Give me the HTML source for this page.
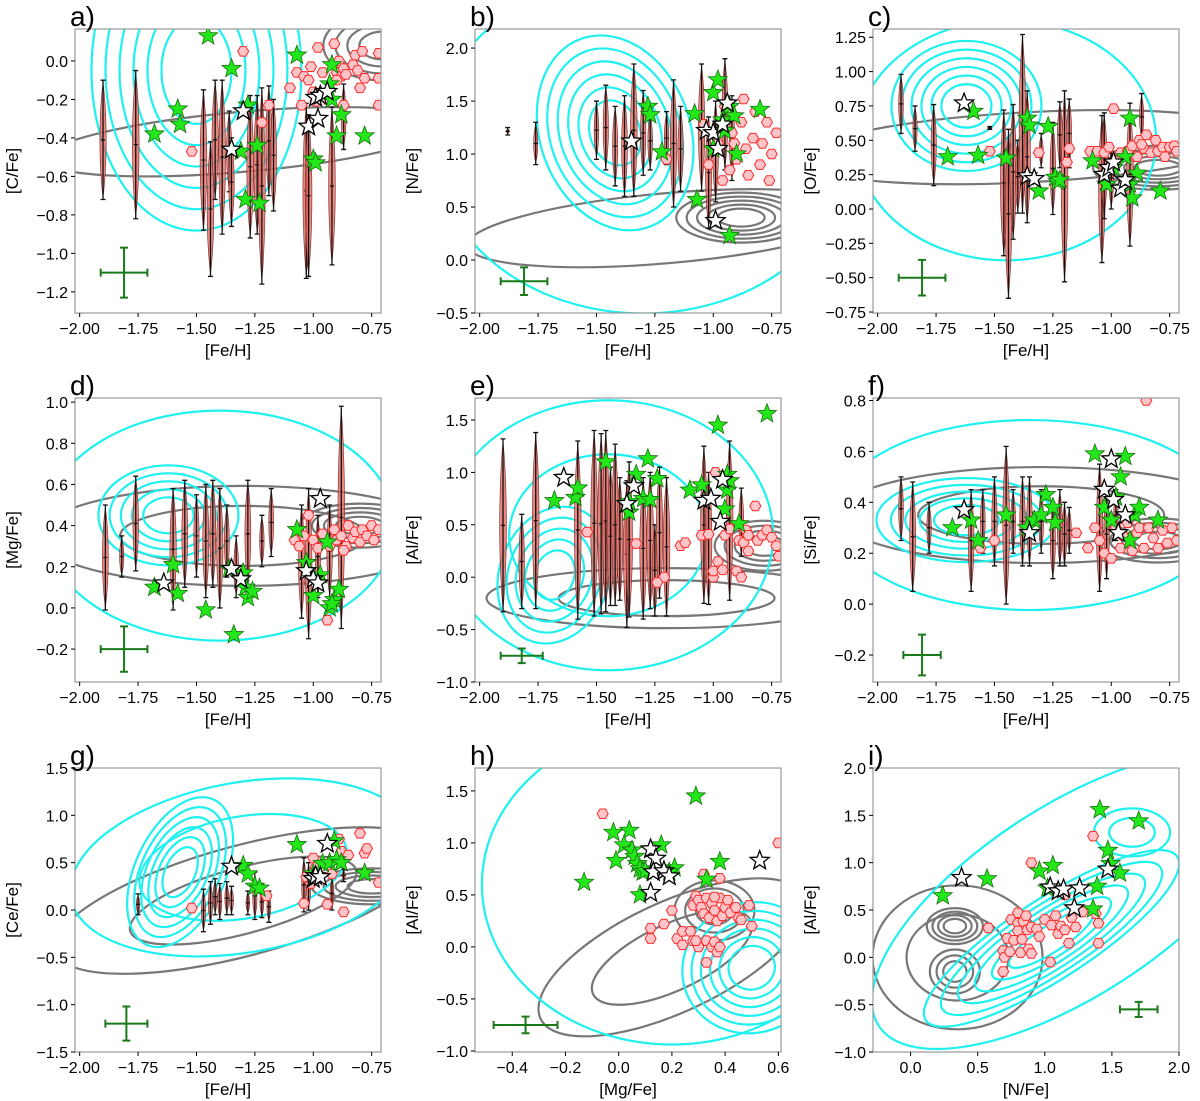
<!DOCTYPE html>
<html><head><meta charset="utf-8">
<style>
html,body{margin:0;padding:0;background:#fff;}
svg{display:block;font-family:"Liberation Sans","DejaVu Sans",sans-serif;}
</style></head>
<body>
<svg id="fig" width="1200" height="1101" viewBox="0 0 1200 1101" xmlns="http://www.w3.org/2000/svg"></svg>
<script>
// ---------- DATA ----------
const aGreen=[[-1.68,-0.38],[-1.58,-0.25],[-1.57,-0.33],[-1.45,0.13],[-1.35,-0.04],[-1.31,-0.47],[-1.28,-0.23],[-1.29,-0.72],[-1.24,-0.44],[-1.23,-0.74],[-1.07,0.03],[-1.0,-0.51],[-0.99,-0.53],[-0.92,-0.02],[-0.93,-0.12],[-0.92,-0.2],[-0.9,-0.39],[-0.88,-0.28],[-0.78,-0.39]];
const aOpen=[[-1.35,-0.46],[-1.3,-0.26],[-1.02,-0.34],[-0.99,-0.19],[-0.97,-0.18],[-0.94,-0.16],[-0.98,-0.3]];
const aHex=[[-1.52,-0.47],[-1.3,0.05],[-1.22,-0.32],[-1.19,-0.23],[-1.1,-0.14],[-1.07,-0.06],[-1.05,-0.23],[-1.04,-0.08],[-1.02,-0.1],[-1.01,-0.03],[-1.0,-0.16],[-0.98,0.07],[-0.96,-0.06],[-0.94,-0.2],[-0.91,0.09],[-0.9,-0.06],[-0.89,0.0],[-0.88,-0.08],[-0.87,-0.04],[-0.86,-0.07],[-0.83,-0.02],[-0.82,0.03],[-0.81,-0.05],[-0.79,0.05],[-0.78,-0.09],[-0.8,-0.14],[-0.72,0.04],[-0.72,-0.23],[-0.72,-0.09],[-0.87,-0.23],[-0.9,-0.1],[-0.99,-0.21]];
const aVx=[-1.9,-1.76,-1.47,-1.44,-1.42,-1.39,-1.36,-1.35,-1.27,-1.24,-1.22,-1.19,-1.17,-1.03,-1.02,-0.92,-0.87];
const aVlo=[-0.72,-0.82,-0.88,-1.12,-0.72,-0.9,-0.68,-0.86,-0.92,-0.9,-1.16,-0.7,-0.78,-1.13,-1.12,-1.06,-0.46];
const aVhi=[-0.1,-0.05,-0.15,-0.42,-0.1,-0.1,-0.26,-0.4,-0.18,-0.18,-0.14,-0.13,-0.2,-0.22,-0.28,-0.24,-0.12];

const bGreen=[[-1.28,1.45],[-1.27,1.37],[-1.22,1.02],[-1.08,1.38],[-1.07,0.57],[-1.0,1.58],[-0.98,1.7],[-0.96,1.32],[-0.95,1.22],[-0.93,1.45],[-0.91,1.36],[-0.9,1.0],[-0.93,0.23],[-0.8,1.42],[-1.0,1.05]];
const bOpen=[[-1.35,1.12],[-1.03,1.22],[-1.0,1.2],[-0.98,1.05],[-0.96,1.28],[-0.94,1.48],[-0.99,0.37]];
const bHex=[[-1.2,0.95],[-1.02,0.9],[-0.98,1.1],[-0.96,0.75],[-0.95,1.45],[-0.92,1.2],[-0.9,0.95],[-0.88,1.3],[-0.86,1.05],[-0.85,0.8],[-0.83,1.15],[-0.82,1.4],[-0.8,0.9],[-0.79,1.1],[-0.77,1.3],[-0.76,0.75],[-0.75,1.0],[-0.73,1.2],[-0.87,1.52],[-0.93,0.85],[-1.04,1.28],[-0.91,1.1]];
const bVx=[-1.88,-1.76,-1.5,-1.46,-1.42,-1.38,-1.34,-1.3,-1.27,-1.2,-1.17,-1.14,-1.05,-1.02,-0.99,-0.95,-0.92];
const bVlo=[1.18,0.9,0.95,0.85,0.7,0.6,0.6,0.8,0.85,0.9,0.5,0.65,0.65,0.3,0.55,0.85,0.75];
const bVhi=[1.25,1.3,1.5,1.65,1.45,1.55,1.85,1.6,1.4,1.4,1.7,1.45,1.85,1.35,1.5,1.9,1.55];

const cGreen=[[-1.7,0.38],[-1.59,0.71],[-1.57,0.39],[-1.45,0.37],[-1.36,0.66],[-1.35,0.61],[-1.31,0.13],[-1.27,0.6],[-1.24,0.23],[-1.23,0.2],[-1.22,0.21],[-1.08,0.35],[-1.02,0.18],[-0.99,0.3],[-0.94,0.38],[-0.92,0.66],[-0.92,0.18],[-0.91,0.08],[-0.89,0.26],[-0.79,0.13]];
const cOpen=[[-1.63,0.77],[-1.36,0.24],[-1.33,0.22],[-1.03,0.25],[-1.01,0.3],[-0.99,0.34],[-0.96,0.15],[-0.94,0.21]];
const cHex=[[-1.52,0.42],[-1.31,0.41],[-1.19,0.34],[-1.18,0.44],[-1.09,0.42],[-1.06,0.42],[-1.03,0.41],[-1.01,0.45],[-0.99,0.73],[-0.96,0.41],[-0.93,0.42],[-0.91,0.46],[-0.89,0.38],[-0.88,0.5],[-0.86,0.44],[-0.85,0.54],[-0.83,0.41],[-0.81,0.5],[-0.8,0.42],[-0.78,0.45],[-0.77,0.38],[-0.75,0.45],[-0.73,0.46],[-0.72,0.42],[-0.87,0.47]];
const cVx=[-1.9,-1.84,-1.76,-1.52,-1.46,-1.44,-1.42,-1.4,-1.38,-1.36,-1.3,-1.25,-1.22,-1.2,-1.18,-1.04,-1.03,-1.0,-0.92,-0.87];
const cVlo=[0.55,0.42,0.17,0.58,-0.34,-0.65,-0.22,-0.03,-0.03,-0.1,0.3,-0.04,0.3,-0.53,0.3,-0.39,-0.07,0.0,-0.27,0.5];
const cVhi=[0.98,0.75,0.76,0.6,0.72,0.58,0.76,0.5,1.27,0.86,0.55,0.63,0.78,0.86,0.8,0.68,0.7,0.45,0.77,0.84];

const dGreen=[[-1.68,0.1],[-1.6,0.21],[-1.58,0.07],[-1.46,-0.01],[-1.36,0.19],[-1.34,-0.13],[-1.3,0.17],[-1.29,0.1],[-1.28,0.05],[-1.26,0.08],[-1.07,0.38],[-1.03,0.22],[-1.0,0.06],[-0.97,0.16],[-0.94,0.32],[-0.93,0.0],[-0.91,0.04],[-0.89,0.09],[-0.92,0.02]];
const dOpen=[[-1.64,0.12],[-1.35,0.19],[-1.31,0.14],[-1.03,0.18],[-1.0,0.14],[-0.98,0.12],[-0.97,0.53]];
const dHex=[[-1.08,0.33],[-1.06,0.3],[-1.04,0.35],[-1.02,0.45],[-1.0,0.33],[-0.98,0.29],[-0.96,0.36],[-0.94,-0.06],[-0.93,0.3],[-0.91,0.38],[-0.9,0.33],[-0.88,0.35],[-0.86,0.3],[-0.85,0.4],[-0.83,0.34],[-0.82,0.37],[-0.8,0.32],[-0.79,0.38],[-0.77,0.35],[-0.75,0.4],[-0.74,0.33],[-0.72,0.38],[-0.87,0.28]];
const dVx=[-1.89,-1.82,-1.76,-1.6,-1.55,-1.5,-1.46,-1.43,-1.4,-1.37,-1.33,-1.28,-1.22,-1.18,-1.05,-1.02,-0.98,-0.93,-0.88];
const dVlo=[-0.01,0.15,0.18,-0.01,0.1,0.15,0.05,0.1,0.0,0.15,0.05,0.1,0.2,0.25,-0.05,-0.15,0.05,0.05,-0.1];
const dVhi=[0.5,0.35,0.64,0.58,0.62,0.55,0.6,0.62,0.58,0.5,0.35,0.62,0.45,0.58,0.5,0.58,0.45,0.5,0.98];

const eGreen=[[-1.68,0.73],[-1.59,0.76],[-1.58,0.85],[-1.46,1.1],[-1.36,0.62],[-1.36,0.72],[-1.33,0.98],[-1.28,1.13],[-1.3,0.75],[-1.27,0.74],[-1.24,0.94],[-1.1,0.83],[-1.05,0.88],[-0.98,1.45],[-0.94,0.98],[-0.94,0.83],[-0.95,0.65],[-0.93,0.92],[-0.89,0.51],[-0.77,1.56]];
const eOpen=[[-1.64,0.95],[-1.37,0.7],[-1.34,0.87],[-1.04,0.73],[-1.01,0.75],[-0.97,0.53],[-0.96,0.93]];
const eHex=[[-1.54,0.43],[-1.33,0.32],[-1.14,0.3],[-1.12,0.33],[-1.05,0.4],[-1.02,0.41],[-1.0,0.0],[-1.0,0.06],[-0.99,1.0],[-0.98,0.15],[-0.96,0.07],[-0.95,0.4],[-0.93,0.46],[-0.9,0.06],[-0.89,0.35],[-0.88,0.0],[-0.87,0.33],[-0.86,0.45],[-0.85,0.25],[-0.82,0.68],[-0.81,0.35],[-0.79,0.4],[-0.77,0.45],[-0.75,0.38],[-0.73,0.3],[-0.72,0.2],[-1.21,0.0],[-1.24,-0.05],[-0.85,0.4]];
const eVx=[-1.9,-1.82,-1.76,-1.58,-1.51,-1.48,-1.46,-1.44,-1.42,-1.4,-1.37,-1.36,-1.3,-1.27,-1.25,-1.23,-1.2,-1.04,-1.02,-0.93,-0.88];
const eVlo=[-0.33,-0.3,-0.3,-0.4,-0.37,-0.35,-0.33,-0.27,-0.27,-0.22,-0.48,-0.38,-0.4,-0.3,-0.37,-0.2,-0.37,-0.25,-0.26,-0.22,0.2];
const eVhi=[1.32,0.6,1.38,1.3,1.4,1.37,1.4,1.05,1.27,0.95,0.92,1.1,0.95,1.0,0.5,1.05,0.95,1.25,1.0,1.3,0.85];

const fGreen=[[-1.68,0.3],[-1.6,0.33],[-1.57,0.25],[-1.45,0.35],[-1.36,0.3],[-1.33,0.33],[-1.3,0.35],[-1.28,0.43],[-1.25,0.38],[-1.24,0.32],[-1.07,0.59],[-1.03,0.38],[-1.0,0.33],[-0.98,0.42],[-0.96,0.5],[-0.94,0.58],[-0.9,0.35],[-0.92,0.25],[-0.8,0.33],[-0.88,0.38]];
const fOpen=[[-1.63,0.37],[-1.35,0.28],[-1.03,0.45],[-1.0,0.57],[-0.99,0.41],[-0.97,0.28],[-0.94,0.35]];
const fHex=[[-1.56,0.22],[-1.5,0.25],[-1.15,0.28],[-1.1,0.22],[-1.07,0.3],[-1.05,0.25],[-1.03,0.2],[-1.0,0.18],[-0.98,0.3],[-0.96,0.22],[-0.95,0.27],[-0.93,0.32],[-0.91,0.21],[-0.89,0.28],[-0.88,0.3],[-0.86,0.22],[-0.85,0.8],[-0.84,0.3],[-0.82,0.26],[-0.8,0.22],[-0.78,0.29],[-0.76,0.24],[-0.74,0.3],[-0.72,0.25]];
const fVx=[-1.9,-1.85,-1.78,-1.6,-1.55,-1.5,-1.45,-1.42,-1.38,-1.35,-1.3,-1.25,-1.22,-1.2,-1.18,-1.05,-1.02,-0.98];
const fVlo=[0.25,0.05,0.2,0.05,0.2,0.15,0.0,0.2,0.15,0.15,0.2,0.1,0.15,0.15,0.2,0.05,0.1,0.25];
const fVhi=[0.5,0.48,0.4,0.45,0.45,0.5,0.62,0.45,0.5,0.5,0.45,0.4,0.45,0.4,0.38,0.55,0.45,0.45];

const gGreen=[[-1.3,0.47],[-1.28,0.38],[-1.25,0.25],[-1.23,0.23],[-1.07,0.69],[-1.0,0.38],[-0.96,0.49],[-0.93,0.5],[-0.91,0.73],[-0.9,0.53],[-0.88,0.5],[-0.78,0.39]];
const gOpen=[[-1.35,0.46],[-1.0,0.33],[-0.99,0.36],[-0.97,0.35],[-0.94,0.7]];
const gHex=[[-1.52,0.02],[-1.2,0.15],[-1.04,0.07],[-1.03,0.35],[-1.01,0.28],[-1.0,0.55],[-0.99,0.45],[-0.94,0.06],[-0.92,0.38],[-0.89,0.75],[-0.88,0.62],[-0.87,-0.02],[-0.85,0.58],[-0.8,0.81],[-0.78,0.6],[-0.77,0.65],[-0.72,0.29]];
const gVx=[-1.75,-1.47,-1.44,-1.42,-1.4,-1.37,-1.35,-1.28,-1.25,-1.22,-1.19,-1.04,-1.02,-0.92,-0.87];
const gVlo=[-0.05,-0.23,-0.15,-0.05,-0.1,-0.05,-0.05,-0.05,-0.1,-0.08,-0.13,-0.02,0.0,0.0,0.3];
const gVhi=[0.17,0.22,0.3,0.33,0.28,0.3,0.25,0.2,0.4,0.25,0.2,0.55,0.5,0.35,0.43];

const hGreen=[[-0.13,0.62],[-0.02,1.1],[0.04,1.12],[0.02,0.98],[-0.01,0.83],[0.05,0.93],[0.06,0.87],[0.07,0.8],[0.08,0.75],[0.09,0.72],[0.1,0.73],[0.16,0.98],[0.21,0.76],[0.08,0.5],[0.29,1.45],[0.38,0.82],[0.33,0.65],[0.19,0.72]];
const hOpen=[[0.12,0.94],[0.14,0.85],[0.13,0.72],[0.17,0.73],[0.19,0.68],[0.12,0.52],[0.53,0.83]];
const hHex=[[-0.06,1.28],[0.6,1.0],[0.32,0.7],[0.38,0.66],[0.2,0.35],[0.17,0.22],[0.12,0.18],[0.12,0.08],[0.22,0.08],[0.24,0.15],[0.27,0.15],[0.24,0.02],[0.28,0.06],[0.29,0.49],[0.28,0.4],[0.3,0.45],[0.31,0.38],[0.32,0.32],[0.33,0.47],[0.34,0.28],[0.35,0.42],[0.36,0.35],[0.37,0.25],[0.38,0.47],[0.39,0.3],[0.4,0.38],[0.41,0.45],[0.42,0.33],[0.44,0.38],[0.45,0.28],[0.46,0.26],[0.49,0.4],[0.5,0.2],[0.33,0.06],[0.35,0.0],[0.36,0.05],[0.37,-0.05],[0.38,0.0],[0.3,0.0],[0.29,0.06],[0.33,-0.15],[0.36,0.48]];

const iGreen=[[0.24,0.65],[0.57,0.83],[0.96,0.91],[1.02,0.73],[1.06,0.97],[1.41,1.56],[1.39,0.75],[1.36,0.51],[1.47,1.13],[1.49,0.99],[1.56,0.89],[1.7,1.44]];
const iOpen=[[0.38,0.84],[1.04,0.74],[1.1,0.7],[1.14,0.72],[1.26,0.73],[1.22,0.52],[1.47,0.93]];
const iHex=[[0.58,0.31],[0.69,-0.15],[0.69,0.07],[0.7,0.0],[0.72,0.2],[0.74,0.06],[0.75,0.4],[0.77,0.18],[0.8,0.47],[0.8,0.36],[0.8,0.28],[0.82,0.05],[0.83,0.19],[0.84,0.38],[0.86,0.44],[0.87,0.29],[0.88,0.09],[0.9,0.04],[0.9,1.0],[0.9,0.32],[0.94,0.3],[0.96,0.22],[1.0,0.4],[1.04,-0.05],[1.05,0.34],[1.08,0.44],[1.1,0.25],[1.12,0.33],[1.15,0.29],[1.18,0.15],[1.2,0.42],[1.23,0.32],[1.28,0.48],[1.36,1.28],[1.38,0.46],[1.4,0.36],[1.4,0.15],[1.15,0.66]];

// ---------- LAYOUT ----------
const cols=[75,475,873], rows=[29,398,768], W=306, H=284;
const FE=[-2.02,-0.71], FETICKS=[-2.0,-1.75,-1.5,-1.25,-1.0,-0.75];
const panels=[
 {id:'a',col:0,row:0,x:FE,y:[-1.31,0.166],xt:FETICKS,yt:[-1.2,-1.0,-0.8,-0.6,-0.4,-0.2,0.0],yd:1,xl:'[Fe/H]',yl:'[C/Fe]',g:aGreen,o:aOpen,h:aHex,vx:aVx,vlo:aVlo,vhi:aVhi,err:[-1.81,-1.1,0.1,0.13],
  cy:[{cx:-1.5,cy:-0.05,rx:105,ry:160,r:0,n:6},{cx:-1.35,cy:-0.25,rx:300,ry:240,r:0,n:1}],
  gr:[{cx:-1.3,cy:-0.42,rx:200,ry:30,r:-5,n:1},{cx:-0.7,cy:0.08,rx:60,ry:35,r:0,n:4}]},
 {id:'b',col:1,row:0,x:FE,y:[-0.5,2.18],xt:FETICKS,yt:[-0.5,0,0.5,1.0,1.5,2.0],yd:1,xl:'[Fe/H]',yl:'[N/Fe]',g:bGreen,o:bOpen,h:bHex,vx:bVx,vlo:bVlo,vhi:bVhi,err:[-1.81,-0.2,0.1,0.13],
  cy:[{cx:-1.42,cy:1.2,rx:75,ry:100,r:-20,n:6},{cx:-1.3,cy:1.1,rx:210,ry:170,r:0,n:1}],
  gr:[{cx:-1.2,cy:0.3,rx:200,ry:35,r:-5,n:1},{cx:-0.88,cy:0.4,rx:65,ry:25,r:0,n:5}]},
 {id:'c',col:2,row:0,x:FE,y:[-0.757,1.31],xt:FETICKS,yt:[-0.75,-0.5,-0.25,0,0.25,0.5,0.75,1.0,1.25],yd:2,xl:'[Fe/H]',yl:'[O/Fe]',g:cGreen,o:cOpen,h:cHex,vx:cVx,vlo:cVlo,vhi:cVhi,err:[-1.81,-0.5,0.1,0.13],
  cy:[{cx:-1.62,cy:0.75,rx:75,ry:65,r:0,n:6},{cx:-1.45,cy:0.5,rx:150,ry:120,r:0,n:1}],
  gr:[{cx:-1.35,cy:0.45,rx:230,ry:35,r:-3,n:1},{cx:-0.8,cy:0.3,rx:65,ry:22,r:0,n:5}]},
 {id:'d',col:0,row:1,x:FE,y:[-0.36,1.02],xt:FETICKS,yt:[-0.2,0,0.2,0.4,0.6,0.8,1.0],yd:1,xl:'[Fe/H]',yl:'[Mg/Fe]',g:dGreen,o:dOpen,h:dHex,vx:dVx,vlo:dVlo,vhi:dVhi,err:[-1.81,-0.2,0.1,0.11],
  cy:[{cx:-1.62,cy:0.45,rx:70,ry:50,r:0,n:5},{cx:-1.4,cy:0.4,rx:175,ry:115,r:0,n:1}],
  gr:[{cx:-1.3,cy:0.35,rx:205,ry:50,r:0,n:2},{cx:-0.8,cy:0.4,rx:60,ry:22,r:0,n:4}]},
 {id:'e',col:1,row:1,x:FE,y:[-1.0,1.71],xt:FETICKS,yt:[-1.0,-0.5,0,0.5,1.0,1.5],yd:1,xl:'[Fe/H]',yl:'[Al/Fe]',g:eGreen,o:eOpen,h:eHex,vx:eVx,vlo:eVlo,vhi:eVhi,err:[-1.82,-0.75,0.09,0.07],
  cy:[{cx:-1.68,cy:0.02,rx:55,ry:70,r:20,n:5},{cx:-1.45,cy:0.4,rx:165,ry:135,r:0,n:2}],
  gr:[{cx:-1.2,cy:-0.2,rx:180,ry:30,r:0,n:2},{cx:-0.78,cy:0.3,rx:50,ry:25,r:0,n:4}]},
 {id:'f',col:2,row:1,x:FE,y:[-0.306,0.81],xt:FETICKS,yt:[-0.2,0,0.2,0.4,0.6,0.8],yd:1,xl:'[Fe/H]',yl:'[Si/Fe]',g:fGreen,o:fOpen,h:fHex,vx:fVx,vlo:fVlo,vhi:fVhi,err:[-1.81,-0.2,0.08,0.08],
  cy:[{cx:-1.62,cy:0.33,rx:90,ry:42,r:0,n:5},{cx:-1.35,cy:0.35,rx:195,ry:95,r:0,n:1}],
  gr:[{cx:-1.3,cy:0.35,rx:205,ry:48,r:0,n:2},{cx:-0.8,cy:0.25,rx:60,ry:22,r:0,n:4}]},
 {id:'g',col:0,row:2,x:FE,y:[-1.5,1.5],xt:FETICKS,yt:[-1.5,-1.0,-0.5,0,0.5,1.0,1.5],yd:1,xl:'[Fe/H]',yl:'[Ce/Fe]',g:gGreen,o:gOpen,h:gHex,vx:gVx,vlo:gVlo,vhi:gVhi,err:[-1.8,-1.2,0.09,0.18],
  cy:[{cx:-1.57,cy:0.4,rx:45,ry:80,r:25,n:6},{cx:-1.3,cy:0.45,rx:175,ry:85,r:-10,n:2}],
  gr:[{cx:-1.3,cy:0.1,rx:195,ry:55,r:-15,n:2},{cx:-0.75,cy:0.25,rx:60,ry:18,r:0,n:4}]},
 {id:'h',col:1,row:2,x:[-0.54,0.61],y:[-1.01,1.72],xt:[-0.4,-0.2,0,0.2,0.4,0.6],yt:[-1.0,-0.5,0,0.5,1.0,1.5],yd:1,xd:1,xl:'[Mg/Fe]',yl:'[Al/Fe]',g:hGreen,o:hOpen,h:hHex,vx:[],vlo:[],vhi:[],err:[-0.35,-0.75,0.12,0.08],
  cy:[{cx:0.5,cy:-0.2,rx:70,ry:65,r:-20,n:6},{cx:0.2,cy:0.6,rx:190,ry:160,r:0,n:1}],
  gr:[{cx:0.36,cy:0.35,rx:40,ry:30,r:0,n:3},{cx:0.2,cy:-0.1,rx:145,ry:55,r:-25,n:2}]},
 {id:'i',col:2,row:2,x:[-0.28,2.0],y:[-1.0,2.0],xt:[0,0.5,1.0,1.5,2.0],yt:[-1.0,-0.5,0,0.5,1.0,1.5,2.0],yd:1,xd:1,xl:'[N/Fe]',yl:'[Al/Fe]',g:iGreen,o:iOpen,h:iHex,vx:[],vlo:[],vhi:[],err:[1.7,-0.55,0.14,0.08],
  cy:[{cx:1.05,cy:0.2,rx:150,ry:40,r:-33,n:6},{cx:1.2,cy:0.6,rx:230,ry:95,r:-33,n:1},{cx:1.65,cy:1.32,rx:38,ry:24,r:0,n:2}],
  gr:[{cx:0.33,cy:0.33,rx:28,ry:18,r:0,n:4},{cx:0.33,cy:-0.15,rx:25,ry:22,r:0,n:3},{cx:0.35,cy:0.0,rx:85,ry:72,r:0,n:2}]}
];

const NS='http://www.w3.org/2000/svg';
const fig=document.getElementById('fig');
function mk(tag,attrs,parent){const e=document.createElementNS(NS,tag);for(const k in attrs)e.setAttribute(k,attrs[k]);(parent||fig).appendChild(e);return e;}
function fmt(v,d){let s=v.toFixed(d);if(Math.abs(v)<1e-9)s=(0).toFixed(d);return s.replace('-','\u2212');}
function starPts(cx,cy,R){const r=R*0.42;let p=[];for(let k=0;k<10;k++){const a=-Math.PI/2+k*Math.PI/5;const rr=k%2?r:R;p.push((cx+rr*Math.cos(a)).toFixed(1)+','+(cy+rr*Math.sin(a)).toFixed(1));}return p.join(' ');}
function hexPts(cx,cy,R){let p=[];for(let k=0;k<6;k++){const a=k*Math.PI/3;p.push((cx+R*Math.cos(a)).toFixed(1)+','+(cy+R*Math.sin(a)).toFixed(1));}return p.join(' ');}

panels.forEach(P=>{
  const L=cols[P.col],T=rows[P.row];
  const sx=v=>L+(v-P.x[0])/(P.x[1]-P.x[0])*W;
  const sy=v=>T+H-(v-P.y[0])/(P.y[1]-P.y[0])*H;
  const g=mk('g',{});
  
  
  const cp=mk('clipPath',{id:'clip'+P.id},g);
  mk('rect',{x:L,y:T,width:W,height:H},cp);
  const plot=mk('g',{'clip-path':'url(#clip'+P.id+')'},g);
  const drawC=(list,col,nm)=>{list.forEach(c=>{for(let k=1;k<=c.n;k++){const f=c.n===1?1:(0.2+0.8*k/c.n);
    const e=mk('ellipse',{cx:sx(c.cx),cy:sy(c.cy),rx:c.rx*f,ry:c.ry*f,transform:'rotate('+c.r+' '+sx(c.cx)+' '+sy(c.cy)+')',fill:'none',stroke:col,'stroke-width':2.2},plot);
    
    }});};
  drawC(P.gr,'#777777','gray-contour');
  drawC(P.cy,'#1ff0f0','cyan-contour');
  P.vx.forEach((x,i)=>{const X=sx(x),y1=sy(P.vhi[i]),y2=sy(P.vlo[i]);const m=(y1+y2)/2,hw=Math.min(3.2,1.5+(y2-y1)/80),q=(y2-y1)*0.2;
    const v=mk('path',{d:`M${X},${y1+2} C${X+hw*1.4},${m-q} ${X+hw*1.4},${m+q} ${X},${y2-2} C${X-hw*1.4},${m+q} ${X-hw*1.4},${m-q} ${X},${y1+2}Z`,fill:'#e46a62','fill-opacity':0.8,stroke:'#7a2a2a','stroke-width':0.6},plot);
    
    
    const eb=mk('path',{d:`M${X},${y1}V${y2}M${X-2.5},${y1}H${X+2.5}M${X-2.5},${y2}H${X+2.5}M${X-2},${m}H${X+2}`,stroke:'#111',fill:'none','stroke-width':1.3},plot);
    
    });
  P.h.forEach(p=>{const h=mk('polygon',{points:hexPts(sx(p[0]),sy(p[1]),5.5),fill:'#ffc4c8',stroke:'#ff2a2a','stroke-width':1},plot);
    
    });
  P.g.forEach(p=>{const s=mk('polygon',{points:starPts(sx(p[0]),sy(p[1]),10),fill:'#22e81a',stroke:'#1a6e10','stroke-width':0.8},plot);
    
    });
  P.o.forEach(p=>{const s=mk('polygon',{points:starPts(sx(p[0]),sy(p[1]),10),fill:'#fff',stroke:'#000','stroke-width':1.3},plot);
    
    });
  const E=P.err,ex=sx(E[0]),ey=sy(E[1]),dx=sx(E[0]+E[2])-ex,dy=ey-sy(E[1]+E[3]);
  const ec=mk('path',{d:`M${ex-dx},${ey}H${ex+dx}M${ex},${ey-dy}V${ey+dy}M${ex-dx},${ey-4}V${ey+4}M${ex+dx},${ey-4}V${ey+4}M${ex-4},${ey-dy}H${ex+4}M${ex-4},${ey+dy}H${ex+4}`,stroke:'#1a7a1a','stroke-width':2,fill:'none'},plot);
  
  
  const fr=mk('rect',{x:L,y:T,width:W,height:H,fill:'none',stroke:'#999','stroke-width':1.2},g);
  
  
  P.xt.forEach(t=>{const X=sx(t);mk('line',{x1:X,x2:X,y1:T+H,y2:T+H+4,stroke:'#000'},g);
    const tx=mk('text',{x:X,y:T+H+21,'font-size':16,'text-anchor':'middle'},g);tx.textContent=fmt(t,P.xd||2);
    
    });
  P.yt.forEach(t=>{const Y=sy(t);mk('line',{x1:L-4,x2:L,y1:Y,y2:Y,stroke:'#000'},g);
    const ty=mk('text',{x:L-7,y:Y+6,'font-size':16,'text-anchor':'end'},g);ty.textContent=fmt(t,P.yd);
    
    });
  const xl=mk('text',{x:L+W/2,y:T+H+43,'font-size':17,'text-anchor':'middle'},g);xl.textContent=P.xl;
  
  
  const yx=L-57,yy=T+H/2;
  const yl=mk('text',{x:yx,y:yy,'font-size':17,'text-anchor':'middle',transform:`rotate(-90 ${yx} ${yy})`},g);yl.textContent=P.yl;
  
  
  const lt=mk('text',{x:L-5,y:T-3,'font-size':28},g);lt.textContent=P.id+')';
  
  
});
</script>
</body></html>
